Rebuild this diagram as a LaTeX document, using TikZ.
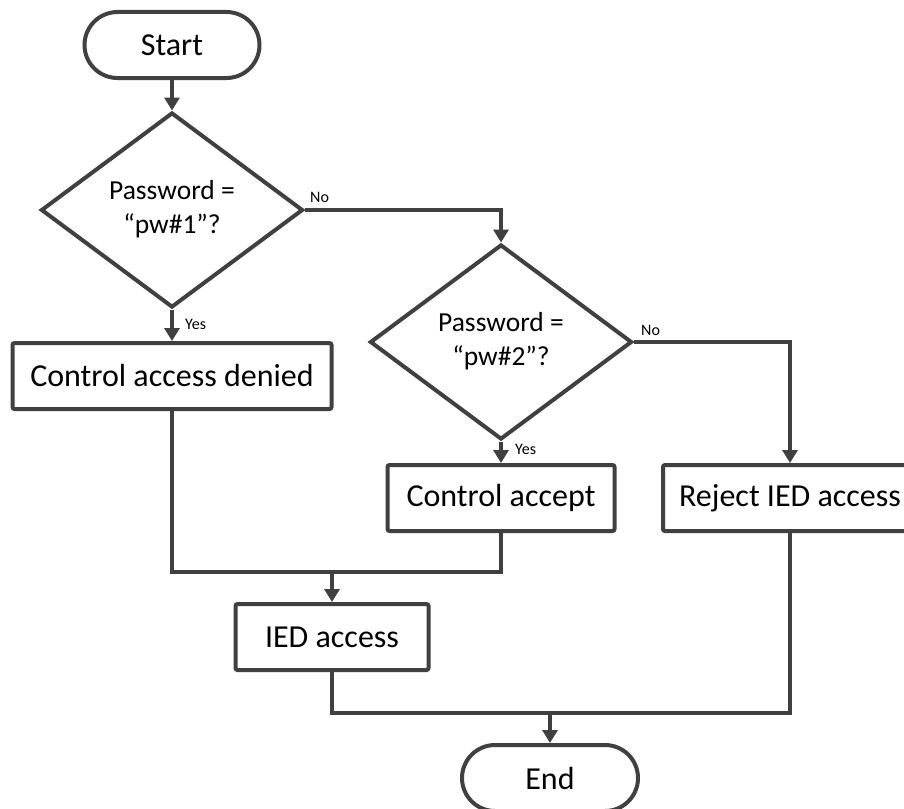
\documentclass[tikz,border=0pt]{standalone}
\usepackage{fontspec}
\setmainfont{Carlito}
\usetikzlibrary{shapes.geometric,arrows.meta}
\definecolor{edge}{HTML}{404040}
\begin{document}
\begin{tikzpicture}[x=1pt,y=-1pt,
  big/.style={font=\fontsize{32}{42}\selectfont,align=center,inner sep=0pt},
  question/.style={font=\fontsize{27.5}{34}\selectfont,align=center,inner sep=0pt},
  base/.style={big,draw=edge,line width=4pt},
  terminal/.style={base,minimum width=#1,minimum height=66pt,rounded corners=33pt},
  procbox/.style={base,minimum width=#1,minimum height=66pt,rounded corners=2pt},
  decision/.style={base,diamond,minimum width=262pt,minimum height=195pt,shape aspect=1.34},
  flow/.style={draw=edge,line width=4pt,-{Triangle[width=15pt,length=13pt]}},
  wire/.style={draw=edge,line width=4pt},
  tag/.style={font=\fontsize{16}{18}\selectfont,anchor=west,inner sep=0pt}]
\useasboundingbox (0,0) rectangle (904,808);

\node[terminal=175pt] (start) at (172,45) {Start};
\node[decision] (d1) at (172,210) {};
\node[question] (d1text) at (172,209) {Password =\\“pw\#1”?};
\node[procbox=319pt] (deny) at (172,376) {Control access denied};
\node[decision] (d2) at (501,342) {};
\node[question] (d2text) at (501,341) {Password =\\“pw\#2”?};
\node[procbox=227pt] (acc) at (501,498) {Control accept};
\node[procbox=254pt] (rej) at (790,498) {Reject IED access};
\node[procbox=193pt] (ied) at (332,637) {IED access};
\node[terminal=176pt] (end) at (550,778) {End};

\coordinate (m1) at (332,572);
\coordinate (m2) at (550,713);

\draw[flow] (start.south) -- (d1.north);
\draw[flow] (d1.east) -| (d2.north);
\draw[flow] (d1.south) -- (deny.north);
\draw[flow] (d2.east) -| (rej.north);
\draw[flow] (d2.south) -- (acc.north);
\draw[wire] (deny.south) -- (deny.south |- m1) -- (acc.south |- m1) -- (acc.south);
\draw[flow] (m1) -- (ied.north);
\draw[wire] (ied.south) -- (ied.south |- m2) -- (rej.south |- m2) -- (rej.south);
\draw[flow] (m2) -- (end.north);

\node[tag] (no1) at (310,197) {No};
\node[tag] (yes1) at (185,324) {Yes};
\node[tag] (no2) at (641,330) {No};
\node[tag] (yes2) at (515,449) {Yes};
\end{tikzpicture}
\end{document}
